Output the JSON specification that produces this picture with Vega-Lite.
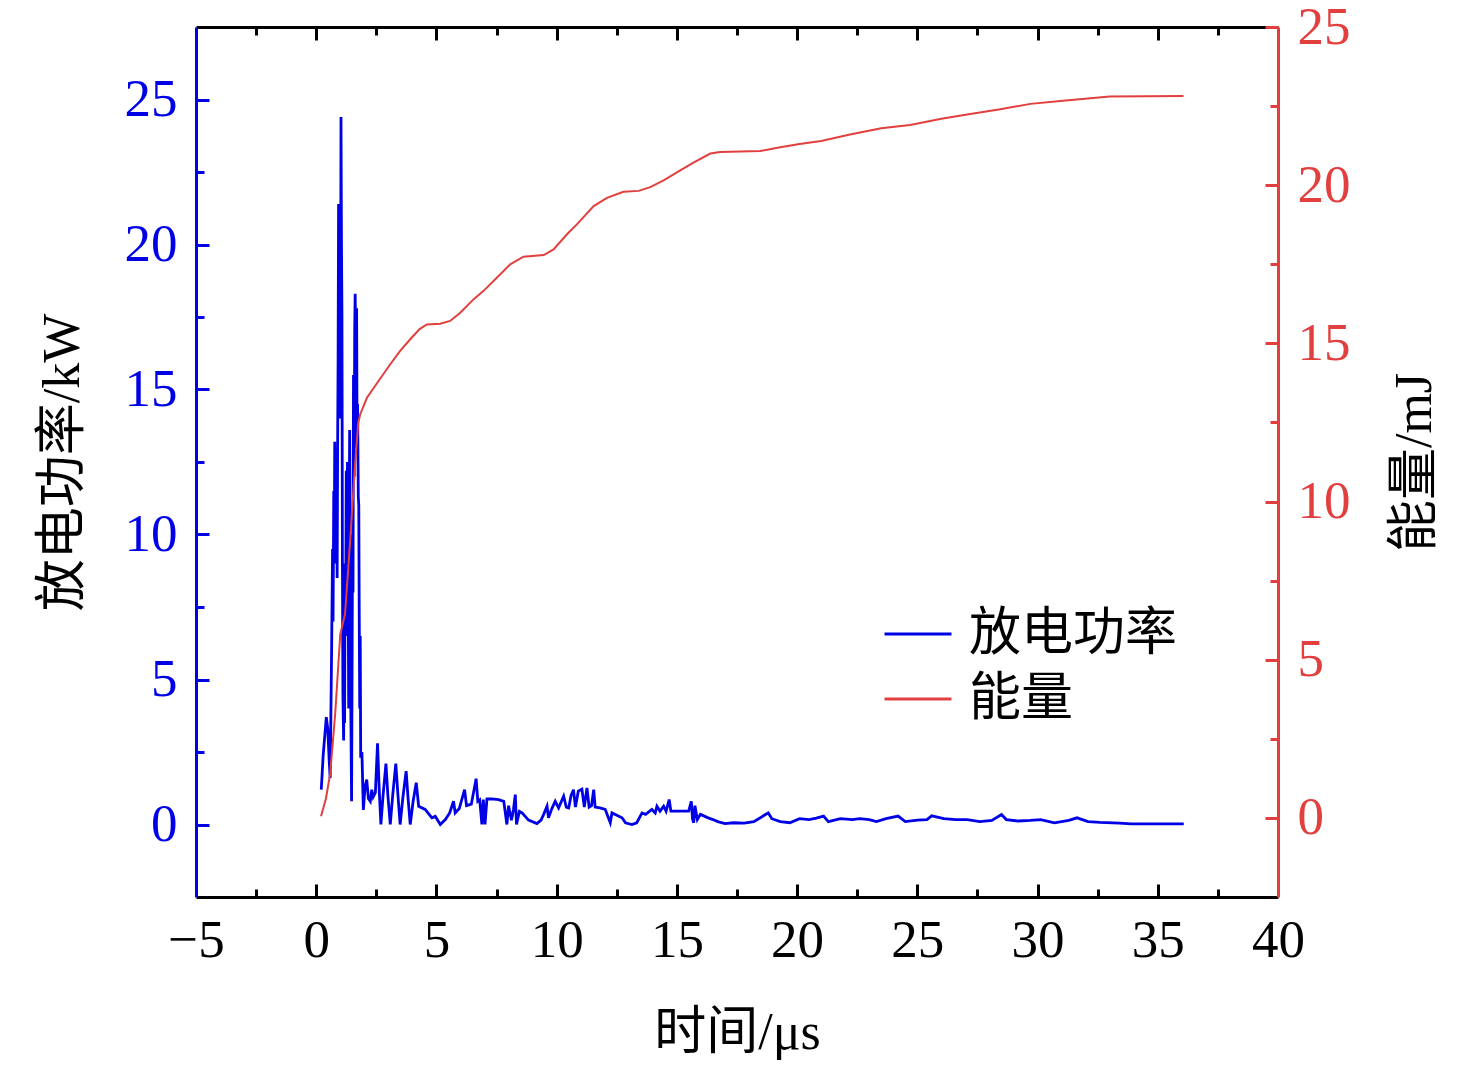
{
  "$schema": "https://vega.github.io/schema/vega-lite/v6.json",
  "description": "Discharge power and energy over time, dual axis.",
  "width": 1082,
  "height": 870,
  "autosize": {"type": "none"},
  "padding": {"left": 196, "top": 27, "right": 198, "bottom": 171},
  "background": "white",
  "config": {
    "view": {"stroke": null},
    "axis": {
      "grid": false,
      "labelFont": "Liberation Serif",
      "labelFontSize": 53,
      "titleFont": "Liberation Serif, Noto Sans CJK SC",
      "titleFontSize": 52,
      "titleFontWeight": "normal",
      "titleColor": "black",
      "domainWidth": 3,
      "tickWidth": 3,
      "labelFlush": false,
      "labelOverlap": false
    }
  },
  "datasets": {
    "power": [
      {"t": 0.21, "p": 1.2, "s": "放电功率"},
      {"t": 0.29, "p": 2.4, "s": "放电功率"},
      {"t": 0.35, "p": 3.0, "s": "放电功率"},
      {"t": 0.42, "p": 3.7, "s": "放电功率"},
      {"t": 0.48, "p": 3.3, "s": "放电功率"},
      {"t": 0.54, "p": 2.2, "s": "放电功率"},
      {"t": 0.58, "p": 1.6, "s": "放电功率"},
      {"t": 0.64, "p": 6.0, "s": "放电功率"},
      {"t": 0.68, "p": 9.5, "s": "放电功率"},
      {"t": 0.70, "p": 7.0, "s": "放电功率"},
      {"t": 0.73, "p": 11.5, "s": "放电功率"},
      {"t": 0.75, "p": 9.0, "s": "放电功率"},
      {"t": 0.77, "p": 13.2, "s": "放电功率"},
      {"t": 0.79, "p": 10.5, "s": "放电功率"},
      {"t": 0.81, "p": 12.8, "s": "放电功率"},
      {"t": 0.83, "p": 9.5, "s": "放电功率"},
      {"t": 0.85, "p": 11.5, "s": "放电功率"},
      {"t": 0.87, "p": 8.5, "s": "放电功率"},
      {"t": 0.89, "p": 13.0, "s": "放电功率"},
      {"t": 0.91, "p": 16.0, "s": "放电功率"},
      {"t": 0.93, "p": 21.4, "s": "放电功率"},
      {"t": 0.95, "p": 17.0, "s": "放电功率"},
      {"t": 0.98, "p": 20.0, "s": "放电功率"},
      {"t": 1.01, "p": 14.0, "s": "放电功率"},
      {"t": 1.03, "p": 24.4, "s": "放电功率"},
      {"t": 1.05, "p": 20.0, "s": "放电功率"},
      {"t": 1.07, "p": 17.6, "s": "放电功率"},
      {"t": 1.09, "p": 9.0, "s": "放电功率"},
      {"t": 1.11, "p": 4.5, "s": "放电功率"},
      {"t": 1.14, "p": 2.9, "s": "放电功率"},
      {"t": 1.16, "p": 6.0, "s": "放电功率"},
      {"t": 1.18, "p": 3.5, "s": "放电功率"},
      {"t": 1.20, "p": 9.0, "s": "放电功率"},
      {"t": 1.22, "p": 6.5, "s": "放电功率"},
      {"t": 1.25, "p": 12.2, "s": "放电功率"},
      {"t": 1.27, "p": 9.0, "s": "放电功率"},
      {"t": 1.30, "p": 12.5, "s": "放电功率"},
      {"t": 1.32, "p": 10.5, "s": "放电功率"},
      {"t": 1.35, "p": 4.0, "s": "放电功率"},
      {"t": 1.37, "p": 10.0, "s": "放电功率"},
      {"t": 1.39, "p": 13.6, "s": "放电功率"},
      {"t": 1.41, "p": 9.0, "s": "放电功率"},
      {"t": 1.43, "p": 5.0, "s": "放电功率"},
      {"t": 1.47, "p": 0.8, "s": "放电功率"},
      {"t": 1.49, "p": 5.0, "s": "放电功率"},
      {"t": 1.51, "p": 10.0, "s": "放电功率"},
      {"t": 1.53, "p": 8.0, "s": "放电功率"},
      {"t": 1.55, "p": 15.5, "s": "放电功率"},
      {"t": 1.58, "p": 12.0, "s": "放电功率"},
      {"t": 1.60, "p": 17.0, "s": "放电功率"},
      {"t": 1.62, "p": 18.3, "s": "放电功率"},
      {"t": 1.65, "p": 16.0, "s": "放电功率"},
      {"t": 1.68, "p": 17.8, "s": "放电功率"},
      {"t": 1.70, "p": 13.0, "s": "放电功率"},
      {"t": 1.72, "p": 14.5, "s": "放电功率"},
      {"t": 1.75, "p": 11.3, "s": "放电功率"},
      {"t": 1.77, "p": 11.0, "s": "放电功率"},
      {"t": 1.79, "p": 7.0, "s": "放电功率"},
      {"t": 1.81, "p": 4.0, "s": "放电功率"},
      {"t": 1.83, "p": 6.5, "s": "放电功率"},
      {"t": 1.85, "p": 2.3, "s": "放电功率"},
      {"t": 1.90, "p": 2.5, "s": "放电功率"},
      {"t": 1.96, "p": 0.5, "s": "放电功率"},
      {"t": 2.03, "p": 1.3, "s": "放电功率"},
      {"t": 2.10, "p": 1.55, "s": "放电功率"},
      {"t": 2.17, "p": 0.9, "s": "放电功率"},
      {"t": 2.25, "p": 0.8, "s": "放电功率"},
      {"t": 2.31, "p": 1.2, "s": "放电功率"},
      {"t": 2.37, "p": 0.95, "s": "放电功率"},
      {"t": 2.46, "p": 1.1, "s": "放电功率"},
      {"t": 2.55, "p": 2.8, "s": "放电功率"},
      {"t": 2.62, "p": 1.2, "s": "放电功率"},
      {"t": 2.69, "p": 0.0, "s": "放电功率"},
      {"t": 2.78, "p": 1.0, "s": "放电功率"},
      {"t": 2.90, "p": 2.1, "s": "放电功率"},
      {"t": 2.98, "p": 1.0, "s": "放电功率"},
      {"t": 3.08, "p": 0.0, "s": "放电功率"},
      {"t": 3.18, "p": 1.0, "s": "放电功率"},
      {"t": 3.31, "p": 2.1, "s": "放电功率"},
      {"t": 3.40, "p": 1.0, "s": "放电功率"},
      {"t": 3.49, "p": 0.0, "s": "放电功率"},
      {"t": 3.60, "p": 0.9, "s": "放电功率"},
      {"t": 3.74, "p": 1.84, "s": "放电功率"},
      {"t": 3.82, "p": 0.9, "s": "放电功率"},
      {"t": 3.91, "p": 0.0, "s": "放电功率"},
      {"t": 4.03, "p": 0.8, "s": "放电功率"},
      {"t": 4.16, "p": 1.44, "s": "放电功率"},
      {"t": 4.26, "p": 0.63, "s": "放电功率"},
      {"t": 4.53, "p": 0.52, "s": "放电功率"},
      {"t": 4.81, "p": 0.23, "s": "放电功率"},
      {"t": 4.95, "p": 0.28, "s": "放电功率"},
      {"t": 5.16, "p": 0.0, "s": "放电功率"},
      {"t": 5.37, "p": 0.17, "s": "放电功率"},
      {"t": 5.55, "p": 0.4, "s": "放电功率"},
      {"t": 5.71, "p": 0.8, "s": "放电功率"},
      {"t": 5.78, "p": 0.4, "s": "放电功率"},
      {"t": 5.95, "p": 0.55, "s": "放电功率"},
      {"t": 6.17, "p": 1.2, "s": "放电功率"},
      {"t": 6.25, "p": 0.65, "s": "放电功率"},
      {"t": 6.45, "p": 0.7, "s": "放电功率"},
      {"t": 6.65, "p": 1.58, "s": "放电功率"},
      {"t": 6.72, "p": 0.8, "s": "放电功率"},
      {"t": 6.80, "p": 0.85, "s": "放电功率"},
      {"t": 6.89, "p": 0.0, "s": "放电功率"},
      {"t": 6.95, "p": 0.86, "s": "放电功率"},
      {"t": 7.02, "p": 0.0, "s": "放电功率"},
      {"t": 7.10, "p": 0.88, "s": "放电功率"},
      {"t": 7.30, "p": 0.88, "s": "放电功率"},
      {"t": 7.58, "p": 0.86, "s": "放电功率"},
      {"t": 7.80, "p": 0.8, "s": "放电功率"},
      {"t": 7.93, "p": 0.0, "s": "放电功率"},
      {"t": 8.00, "p": 0.65, "s": "放电功率"},
      {"t": 8.12, "p": 0.15, "s": "放电功率"},
      {"t": 8.20, "p": 0.5, "s": "放电功率"},
      {"t": 8.28, "p": 1.03, "s": "放电功率"},
      {"t": 8.33, "p": 0.0, "s": "放电功率"},
      {"t": 8.45, "p": 0.45, "s": "放电功率"},
      {"t": 8.56, "p": 0.4, "s": "放电功率"},
      {"t": 8.83, "p": 0.15, "s": "放电功率"},
      {"t": 9.18, "p": 0.03, "s": "放电功率"},
      {"t": 9.35, "p": 0.15, "s": "放电功率"},
      {"t": 9.46, "p": 0.35, "s": "放电功率"},
      {"t": 9.60, "p": 0.63, "s": "放电功率"},
      {"t": 9.66, "p": 0.23, "s": "放电功率"},
      {"t": 9.80, "p": 0.55, "s": "放电功率"},
      {"t": 9.94, "p": 0.8, "s": "放电功率"},
      {"t": 10.08, "p": 0.57, "s": "放电功率"},
      {"t": 10.29, "p": 0.98, "s": "放电功率"},
      {"t": 10.40, "p": 0.6, "s": "放电功率"},
      {"t": 10.50, "p": 0.57, "s": "放电功率"},
      {"t": 10.60, "p": 1.0, "s": "放电功率"},
      {"t": 10.70, "p": 1.2, "s": "放电功率"},
      {"t": 10.78, "p": 0.6, "s": "放电功率"},
      {"t": 10.90, "p": 1.15, "s": "放电功率"},
      {"t": 11.05, "p": 1.22, "s": "放电功率"},
      {"t": 11.15, "p": 0.6, "s": "放电功率"},
      {"t": 11.26, "p": 1.26, "s": "放电功率"},
      {"t": 11.35, "p": 0.6, "s": "放电功率"},
      {"t": 11.45, "p": 0.65, "s": "放电功率"},
      {"t": 11.54, "p": 1.2, "s": "放电功率"},
      {"t": 11.60, "p": 0.6, "s": "放电功率"},
      {"t": 11.80, "p": 0.57, "s": "放电功率"},
      {"t": 12.02, "p": 0.52, "s": "放电功率"},
      {"t": 12.23, "p": 0.06, "s": "放电功率"},
      {"t": 12.30, "p": 0.4, "s": "放电功率"},
      {"t": 12.50, "p": 0.32, "s": "放电功率"},
      {"t": 12.72, "p": 0.23, "s": "放电功率"},
      {"t": 12.86, "p": 0.06, "s": "放电功率"},
      {"t": 13.13, "p": 0.0, "s": "放电功率"},
      {"t": 13.33, "p": 0.06, "s": "放电功率"},
      {"t": 13.55, "p": 0.4, "s": "放电功率"},
      {"t": 13.70, "p": 0.35, "s": "放电功率"},
      {"t": 13.96, "p": 0.52, "s": "放电功率"},
      {"t": 14.10, "p": 0.4, "s": "放电功率"},
      {"t": 14.17, "p": 0.63, "s": "放电功率"},
      {"t": 14.30, "p": 0.46, "s": "放电功率"},
      {"t": 14.45, "p": 0.63, "s": "放电功率"},
      {"t": 14.55, "p": 0.46, "s": "放电功率"},
      {"t": 14.68, "p": 0.86, "s": "放电功率"},
      {"t": 14.75, "p": 0.46, "s": "放电功率"},
      {"t": 15.14, "p": 0.46, "s": "放电功率"},
      {"t": 15.49, "p": 0.46, "s": "放电功率"},
      {"t": 15.60, "p": 0.8, "s": "放电功率"},
      {"t": 15.65, "p": 0.2, "s": "放电功率"},
      {"t": 15.70, "p": 0.06, "s": "放电功率"},
      {"t": 15.75, "p": 0.65, "s": "放电功率"},
      {"t": 15.85, "p": 0.17, "s": "放电功率"},
      {"t": 15.98, "p": 0.35, "s": "放电功率"},
      {"t": 16.30, "p": 0.23, "s": "放电功率"},
      {"t": 16.50, "p": 0.17, "s": "放电功率"},
      {"t": 16.70, "p": 0.1, "s": "放电功率"},
      {"t": 17.00, "p": 0.03, "s": "放电功率"},
      {"t": 17.35, "p": 0.06, "s": "放电功率"},
      {"t": 17.80, "p": 0.05, "s": "放电功率"},
      {"t": 18.20, "p": 0.1, "s": "放电功率"},
      {"t": 18.47, "p": 0.23, "s": "放电功率"},
      {"t": 18.60, "p": 0.3, "s": "放电功率"},
      {"t": 18.80, "p": 0.4, "s": "放电功率"},
      {"t": 18.95, "p": 0.2, "s": "放电功率"},
      {"t": 19.30, "p": 0.1, "s": "放电功率"},
      {"t": 19.70, "p": 0.06, "s": "放电功率"},
      {"t": 20.10, "p": 0.2, "s": "放电功率"},
      {"t": 20.50, "p": 0.17, "s": "放电功率"},
      {"t": 20.80, "p": 0.22, "s": "放电功率"},
      {"t": 21.10, "p": 0.29, "s": "放电功率"},
      {"t": 21.30, "p": 0.1, "s": "放电功率"},
      {"t": 21.80, "p": 0.2, "s": "放电功率"},
      {"t": 22.30, "p": 0.17, "s": "放电功率"},
      {"t": 22.60, "p": 0.2, "s": "放电功率"},
      {"t": 23.00, "p": 0.17, "s": "放电功率"},
      {"t": 23.30, "p": 0.1, "s": "放电功率"},
      {"t": 23.70, "p": 0.2, "s": "放电功率"},
      {"t": 24.20, "p": 0.29, "s": "放电功率"},
      {"t": 24.50, "p": 0.1, "s": "放电功率"},
      {"t": 25.00, "p": 0.15, "s": "放电功率"},
      {"t": 25.40, "p": 0.17, "s": "放电功率"},
      {"t": 25.60, "p": 0.3, "s": "放电功率"},
      {"t": 26.10, "p": 0.2, "s": "放电功率"},
      {"t": 26.60, "p": 0.17, "s": "放电功率"},
      {"t": 27.07, "p": 0.17, "s": "放电功率"},
      {"t": 27.60, "p": 0.1, "s": "放电功率"},
      {"t": 28.10, "p": 0.14, "s": "放电功率"},
      {"t": 28.50, "p": 0.34, "s": "放电功率"},
      {"t": 28.70, "p": 0.17, "s": "放电功率"},
      {"t": 29.20, "p": 0.12, "s": "放电功率"},
      {"t": 29.70, "p": 0.14, "s": "放电功率"},
      {"t": 30.13, "p": 0.17, "s": "放电功率"},
      {"t": 30.70, "p": 0.06, "s": "放电功率"},
      {"t": 31.30, "p": 0.14, "s": "放电功率"},
      {"t": 31.64, "p": 0.23, "s": "放电功率"},
      {"t": 32.10, "p": 0.1, "s": "放电功率"},
      {"t": 32.60, "p": 0.07, "s": "放电功率"},
      {"t": 33.40, "p": 0.05, "s": "放电功率"},
      {"t": 33.90, "p": 0.02, "s": "放电功率"},
      {"t": 36.08, "p": 0.02, "s": "放电功率"}
    ],
    "energy": [
      {"t": 0.20, "e": 0.05, "s": "能量"},
      {"t": 0.40, "e": 0.6, "s": "能量"},
      {"t": 0.58, "e": 1.39, "s": "能量"},
      {"t": 0.79, "e": 3.3, "s": "能量"},
      {"t": 1.00, "e": 5.8, "s": "能量"},
      {"t": 1.20, "e": 6.45, "s": "能量"},
      {"t": 1.41, "e": 8.75, "s": "能量"},
      {"t": 1.62, "e": 11.2, "s": "能量"},
      {"t": 1.75, "e": 12.5, "s": "能量"},
      {"t": 1.83, "e": 12.76, "s": "能量"},
      {"t": 2.11, "e": 13.28, "s": "能量"},
      {"t": 2.59, "e": 13.81, "s": "能量"},
      {"t": 3.08, "e": 14.34, "s": "能量"},
      {"t": 3.49, "e": 14.76, "s": "能量"},
      {"t": 3.91, "e": 15.13, "s": "能量"},
      {"t": 4.30, "e": 15.45, "s": "能量"},
      {"t": 4.60, "e": 15.6, "s": "能量"},
      {"t": 5.16, "e": 15.62, "s": "能量"},
      {"t": 5.57, "e": 15.71, "s": "能量"},
      {"t": 5.99, "e": 15.97, "s": "能量"},
      {"t": 6.54, "e": 16.39, "s": "能量"},
      {"t": 6.96, "e": 16.66, "s": "能量"},
      {"t": 7.52, "e": 17.08, "s": "能量"},
      {"t": 8.07, "e": 17.5, "s": "能量"},
      {"t": 8.62, "e": 17.74, "s": "能量"},
      {"t": 9.46, "e": 17.79, "s": "能量"},
      {"t": 9.87, "e": 17.97, "s": "能量"},
      {"t": 10.43, "e": 18.45, "s": "能量"},
      {"t": 10.84, "e": 18.76, "s": "能量"},
      {"t": 11.54, "e": 19.34, "s": "能量"},
      {"t": 12.09, "e": 19.6, "s": "能量"},
      {"t": 12.78, "e": 19.79, "s": "能量"},
      {"t": 13.41, "e": 19.82, "s": "能量"},
      {"t": 13.89, "e": 19.94, "s": "能量"},
      {"t": 14.45, "e": 20.15, "s": "能量"},
      {"t": 15.14, "e": 20.47, "s": "能量"},
      {"t": 15.69, "e": 20.71, "s": "能量"},
      {"t": 16.39, "e": 21.0, "s": "能量"},
      {"t": 16.80, "e": 21.05, "s": "能量"},
      {"t": 18.47, "e": 21.08, "s": "能量"},
      {"t": 19.30, "e": 21.2, "s": "能量"},
      {"t": 20.10, "e": 21.3, "s": "能量"},
      {"t": 21.00, "e": 21.4, "s": "能量"},
      {"t": 22.20, "e": 21.6, "s": "能量"},
      {"t": 23.50, "e": 21.8, "s": "能量"},
      {"t": 24.70, "e": 21.9, "s": "能量"},
      {"t": 26.00, "e": 22.1, "s": "能量"},
      {"t": 27.20, "e": 22.25, "s": "能量"},
      {"t": 28.45, "e": 22.4, "s": "能量"},
      {"t": 29.70, "e": 22.57, "s": "能量"},
      {"t": 30.95, "e": 22.66, "s": "能量"},
      {"t": 32.20, "e": 22.75, "s": "能量"},
      {"t": 33.00, "e": 22.8, "s": "能量"},
      {"t": 36.07, "e": 22.82, "s": "能量"}
    ]
  },
  "layer": [
    {
      "data": {"name": "power"},
      "mark": {"type": "line", "strokeWidth": 2.8},
      "encoding": {
        "x": {
          "field": "t",
          "type": "quantitative",
          "scale": {"domain": [-5, 40], "nice": false, "zero": false},
          "axis": {
            "orient": "bottom",
            "title": "时间/μs",
            "titleY": 135,
            "titleX": 541,
            "titleBaseline": "middle",
            "titleAlign": "center",
            "values": [-5, -2.5, 0, 2.5, 5, 7.5, 10, 12.5, 15, 17.5, 20, 22.5, 25, 27.5, 30, 32.5, 35, 37.5, 40],
            "labelExpr": "datum.value % 5 === 0 ? datum.label : ''",
            "labelColor": "black",
            "labelPadding": 30,
            "domainColor": "black",
            "tickColor": "black",
            "tickSize": {"condition": {"test": "datum.value % 5 === 0", "value": -13}, "value": -8},
            "tickOpacity": {"condition": {"test": "datum.value === -5 || datum.value === 40", "value": 0}, "value": 1}
          }
        },
        "y": {
          "field": "p",
          "type": "quantitative",
          "scale": {"domain": [-2.5, 27.5], "nice": false, "zero": false},
          "axis": {
            "orient": "left",
            "title": "放电功率/kW",
            "titleX": -134,
            "titleY": 435,
            "titleAngle": -90,
            "titleBaseline": "middle",
            "titleAlign": "center",
            "values": [0, 2.5, 5, 7.5, 10, 12.5, 15, 17.5, 20, 22.5, 25],
            "labelExpr": "datum.value % 5 === 0 ? datum.label : ''",
            "labelColor": "#0000e6",
            "labelPadding": 32,
            "domainColor": "#0000e6",
            "tickColor": "#0000e6",
            "tickSize": {"condition": {"test": "datum.value % 5 === 0", "value": -13}, "value": -8}
          }
        },
        "color": {
          "field": "s",
          "type": "nominal",
          "scale": {"domain": ["放电功率", "能量"], "range": ["#0000e6", "#e23f3f"]},
          "legend": {
            "orient": "none",
            "legendX": 687,
            "legendY": 572,
            "title": null,
            "padding": 0,
            "symbolType": "stroke",
            "symbolSize": 4489,
            "symbolStrokeWidth": 3,
            "labelFont": "Noto Sans CJK SC",
            "labelFontSize": 52,
            "labelColor": "black",
            "labelLimit": 0,
            "labelOffset": 16,
            "rowPadding": 4
          }
        }
      }
    },
    {
      "data": {"name": "energy"},
      "mark": {"type": "line", "strokeWidth": 2},
      "encoding": {
        "x": {
          "field": "t",
          "type": "quantitative",
          "scale": {"domain": [-5, 40], "nice": false, "zero": false},
          "axis": {
            "orient": "top",
            "title": null,
            "labels": false,
            "values": [-5, -2.5, 0, 2.5, 5, 7.5, 10, 12.5, 15, 17.5, 20, 22.5, 25, 27.5, 30, 32.5, 35, 37.5, 40],
            "domainColor": "black",
            "tickColor": "black",
            "tickSize": {"condition": {"test": "datum.value % 5 === 0", "value": -13}, "value": -8},
            "tickOpacity": {"condition": {"test": "datum.value === -5 || datum.value === 40", "value": 0}, "value": 1}
          }
        },
        "y": {
          "field": "e",
          "type": "quantitative",
          "scale": {"domain": [-2.5, 25], "nice": false, "zero": false},
          "axis": {
            "orient": "right",
            "title": "能量/mJ",
            "titleX": 136,
            "titleY": 435,
            "titleAngle": -90,
            "titleBaseline": "middle",
            "titleAlign": "center",
            "values": [0, 2.5, 5, 7.5, 10, 12.5, 15, 17.5, 20, 22.5, 25],
            "labelExpr": "datum.value % 5 === 0 ? datum.label : ''",
            "labelColor": "#e23f3f",
            "labelPadding": 32,
            "domainColor": "#e23f3f",
            "tickColor": "#e23f3f",
            "tickSize": {"condition": {"test": "datum.value % 5 === 0", "value": -13}, "value": -8}
          }
        },
        "color": {"field": "s", "type": "nominal"}
      }
    }
  ],
  "resolve": {"scale": {"y": "independent"}, "axis": {"x": "independent", "y": "independent"}}
}
